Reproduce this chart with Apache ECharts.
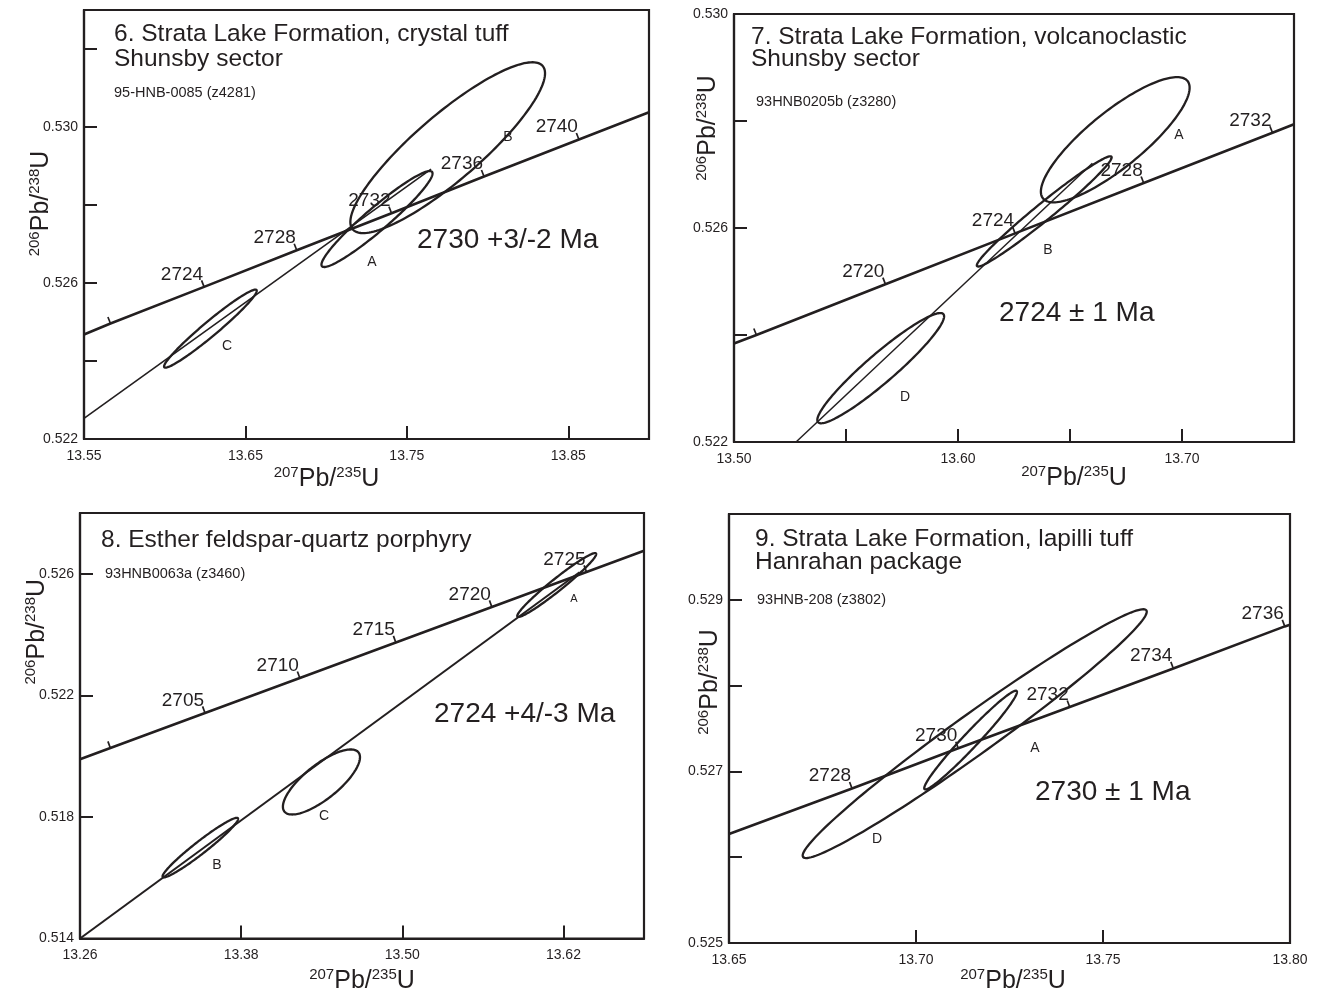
<!DOCTYPE html>
<html>
<head>
<meta charset="utf-8">
<title>U-Pb concordia diagrams</title>
<script src="https://cdn.jsdelivr.net/npm/echarts/dist/echarts.min.js"></script>
<style>
  html, body { margin: 0; padding: 0; background: #fff; }
  #chart { width: 1326px; height: 995px; }
</style>
</head>
<body>
<div id="chart"></div>
<script>
const INK = '#231f20';
const FONT = '"Liberation Sans", Arial, Helvetica, sans-serif';

// ---- 6. Strata Lake Formation, crystal tuff ----
const p6Ages = [2720, 2724, 2728, 2732, 2736, 2740];
const p6UnlabelledAges = [2720];
const p6TickX = [13.5664, 13.6244, 13.6818, 13.7405, 13.7978, 13.8566];
const p6TickY = [0.52496, 0.52590, 0.52684, 0.52779, 0.52873, 0.52968];
const p6ConcordiaEnds = [[13.55, 0.52468], [13.90, 0.53038]];
const p6Discordia = [[13.55, 0.52253], [13.765, 0.52892]];
const p6EllipseNames = ['A', 'B', 'C'];
// centre x, centre y, half width in x, half width in y, error correlation
const p6Ellipses = [
  [13.7315, 0.52764, 0.0344, 0.00123, 0.95],
  [13.7753, 0.52947, 0.0603, 0.00219, 0.87],
  [13.6283, 0.52483, 0.0287, 0.00100, 0.97]
];
const p6XLabels = ['13.55', '13.65', '13.75', '13.85'];
const p6YLabels = ['0.522', '0.526', '0.530'];

// ---- 7. Strata Lake Formation, volcanoclastic ----
const p7Ages = [2716, 2720, 2724, 2728, 2732];
const p7UnlabelledAges = [2716];
const p7TickX = [13.5100, 13.5676, 13.6255, 13.6829, 13.7404];
const p7TickY = [0.52400, 0.52495, 0.52590, 0.52684, 0.52778];
const p7ConcordiaEnds = [[13.50, 0.52384], [13.75, 0.52794]];
const p7Discordia = [[13.5277, 0.52200], [13.660, 0.52721]];
const p7EllipseNames = ['A', 'B', 'D'];
const p7Ellipses = [
  [13.6702, 0.52765, 0.0332, 0.00117, 0.83],
  [13.6385, 0.52631, 0.0301, 0.00103, 0.98],
  [13.5655, 0.52338, 0.0283, 0.00103, 0.94]
];
const p7XLabels = ['13.50', '13.60', '13.70'];
const p7YLabels = ['0.522', '0.526', '0.530'];

// ---- 8. Esther feldspar-quartz porphyry ----
const p8Ages = [2700, 2705, 2710, 2715, 2720, 2725];
const p8UnlabelledAges = [2700];
const p8TickX = [13.2826, 13.3531, 13.4237, 13.4952, 13.5667, 13.6372];
const p8TickY = [0.52027, 0.52142, 0.52257, 0.52374, 0.52491, 0.52606];
const p8ConcordiaEnds = [[13.26, 0.51990], [13.68, 0.52676]];
const p8Discordia = [[13.26, 0.51400], [13.632, 0.52605]];
const p8EllipseNames = ['A', 'B', 'C'];
const p8Ellipses = [
  [13.6150, 0.52563, 0.0294, 0.00105, 0.97],
  [13.3496, 0.51699, 0.0281, 0.00098, 0.965],
  [13.4398, 0.51915, 0.0287, 0.00107, 0.76]
];
const p8XLabels = ['13.26', '13.38', '13.50', '13.62'];
const p8YLabels = ['0.514', '0.518', '0.522', '0.526'];

// ---- 9. Strata Lake Formation, lapilli tuff ----
const p9Ages = [2728, 2730, 2732, 2734, 2736];
const p9UnlabelledAges = [];
const p9TickX = [13.6829, 13.7113, 13.7411, 13.7688, 13.7986];
const p9TickY = [0.52680, 0.52727, 0.52775, 0.52820, 0.52869];
const p9ConcordiaEnds = [[13.65, 0.52627], [13.80, 0.52871]];
const p9EllipseNames = ['A', 'D'];
const p9Ellipses = [
  [13.7146, 0.527365, 0.0124, 0.000575, 0.975],
  [13.7157, 0.52744, 0.0460, 0.00145, 0.98]
];
const p9XLabels = ['13.65', '13.70', '13.75', '13.80'];
const p9YLabels = ['0.525', '0.527', '0.529'];

// layout of the four diagrams (pixels)
const panels = [
  {
    grid: {left: 84, top: 10, width: 565, height: 429},
    x: {min: 13.55, max: 13.90, interval: 0.1, labels: p6XLabels, gap: 26, pad: [0, 80, 0, 0]},
    y: {min: 0.522, max: 0.533, interval: 0.002, labels: p6YLabels, gap: 29, pad: [0, 0, 0, 42]},
    ages: p6Ages, unlabelled: p6UnlabelledAges, tickX: p6TickX, tickY: p6TickY,
    concordia: p6ConcordiaEnds, discordia: p6Discordia, discordiaWidth: 1.6, ellipses: p6Ellipses
  },
  {
    grid: {left: 734, top: 14, width: 560, height: 428},
    x: {min: 13.50, max: 13.75, interval: 0.05, labels: p7XLabels, gap: 22, pad: [0, 0, 0, 120]},
    y: {min: 0.522, max: 0.530, interval: 0.002, labels: p7YLabels, gap: 12, pad: [0, 0, 0, 200]},
    ages: p7Ages, unlabelled: p7UnlabelledAges, tickX: p7TickX, tickY: p7TickY,
    concordia: p7ConcordiaEnds, discordia: p7Discordia, discordiaWidth: 1.5, ellipses: p7Ellipses
  },
  {
    grid: {left: 80, top: 513, width: 564, height: 428},
    x: {min: 13.26, max: 13.68, interval: 0.12, labels: p8XLabels, gap: 29, pad: [0, 0, 0, 0]},
    y: {min: 0.514, max: 0.528, interval: 0.004, labels: p8YLabels, gap: 29, pad: [0, 0, 0, 188]},
    ages: p8Ages, unlabelled: p8UnlabelledAges, tickX: p8TickX, tickY: p8TickY,
    concordia: p8ConcordiaEnds, discordia: p8Discordia, discordiaWidth: 2.1, ellipses: p8Ellipses
  },
  {
    grid: {left: 729, top: 514, width: 561, height: 429},
    x: {min: 13.65, max: 13.80, interval: 0.05, labels: p9XLabels, gap: 24, pad: [0, 0, 0, 7]},
    y: {min: 0.525, max: 0.530, interval: 0.001, labels: p9YLabels, gap: 5, pad: [0, 0, 0, 93]},
    ages: p9Ages, unlabelled: p9UnlabelledAges, tickX: p9TickX, tickY: p9TickY,
    concordia: p9ConcordiaEnds, discordia: null, discordiaWidth: 0, ellipses: p9Ellipses
  }
];

// free text: titles, sample numbers, ages
const notes = [
  ['6. Strata Lake Formation, crystal tuff', 114, 34, 24.5],
  ['Shunsby sector', 114, 59, 24.5],
  ['95-HNB-0085 (z4281)', 114, 93, 14.5],
  ['2730 +3/-2 Ma', 417, 240, 28],
  ['7. Strata Lake Formation, volcanoclastic', 751, 37, 24.5],
  ['Shunsby sector', 751, 59, 24.5],
  ['93HNB0205b (z3280)', 756, 102, 14.5],
  ['2724 \u00b1 1 Ma', 999, 313, 28],
  ['8. Esther feldspar-quartz porphyry', 101, 540, 24.5],
  ['93HNB0063a (z3460)', 105, 574, 14.5],
  ['2724 +4/-3 Ma', 434, 714, 28],
  ['9. Strata Lake Formation, lapilli tuff', 755, 539, 24.5],
  ['Hanrahan package', 755, 562, 24.5],
  ['93HNB-208 (z3802)', 757, 600, 14.5],
  ['2730 \u00b1 1 Ma', 1035, 792, 28]
];
// where each ellipse letter sits: x, y, font size
const letterSpots = [
  [p6EllipseNames, [[372, 262, 14], [508, 137, 14], [227, 346, 14]]],
  [p7EllipseNames, [[1179, 135, 14], [1048, 250, 14], [905, 397, 14]]],
  [p8EllipseNames, [[574, 599, 11], [217, 865, 14], [324, 816, 14]]],
  [p9EllipseNames, [[1035, 748, 14], [877, 839, 14]]]
];

const nameRich = {
  main: {fontSize: 25, lineHeight: 28, fontFamily: FONT, color: INK},
  sup: {fontSize: 15, lineHeight: 16, fontFamily: FONT, color: INK, verticalAlign: 'top'}
};

function pickLabels(list, decimals) {
  return function (value) {
    const s = value.toFixed(decimals);
    return list.indexOf(s) >= 0 ? s : '';
  };
}

function makeAxis(i, a, isX) {
  return {
    gridIndex: i,
    type: 'value',
    min: a.min,
    max: a.max,
    interval: a.interval,
    name: isX ? '{sup|207}{main|Pb/}{sup|235}{main|U}' : '{sup|206}{main|Pb/}{sup|238}{main|U}',
    nameLocation: 'middle',
    nameGap: a.gap,
    nameRotate: isX ? 0 : 90,
    nameMoveOverlap: false,
    nameTextStyle: {rich: nameRich, padding: a.pad},
    axisLine: {show: true, onZero: false, lineStyle: {color: INK, width: 2.2}},
    axisTick: {show: true, inside: true, length: 13, lineStyle: {color: INK, width: 2}},
    axisLabel: {
      show: true, margin: isX ? 10 : 6, fontSize: 14, fontFamily: FONT, color: INK,
      formatter: pickLabels(a.labels, isX ? 2 : 3)
    },
    splitLine: {show: false}
  };
}

function ellipseRenderer(params, api) {
  const cx = api.value(0), cy = api.value(1);
  const hx = api.value(2), hy = api.value(3), rho = api.value(4);
  const s = Math.sqrt(1 - rho * rho);
  const pts = [];
  for (let k = 0; k < 160; k++) {
    const t = (k / 160) * Math.PI * 2;
    pts.push(api.coord([cx + hx * Math.cos(t), cy + hy * (rho * Math.cos(t) + s * Math.sin(t))]));
  }
  return {type: 'polygon', shape: {points: pts}, style: {fill: 'none', stroke: INK, lineWidth: 2.3}};
}

// small age ticks on the concordia, pointing to the upper-left side
function tickRenderer(ends, unlabelled) {
  return function (params, api) {
    const p = api.coord([api.value(0), api.value(1)]);
    const age = api.value(2);
    const a = api.coord(ends[0]);
    const b = api.coord(ends[1]);
    const len = Math.hypot(b[0] - a[0], b[1] - a[1]);
    const nx = (b[1] - a[1]) / len;
    const ny = -(b[0] - a[0]) / len;
    const children = [{
      type: 'line',
      shape: {x1: p[0], y1: p[1], x2: p[0] + nx * 7, y2: p[1] + ny * 7},
      style: {stroke: INK, lineWidth: 1.7}
    }];
    if (unlabelled.indexOf(age) < 0) {
      children.push({
        type: 'text', x: p[0] - 1, y: p[1] - 3,
        style: {text: String(age), align: 'right', verticalAlign: 'bottom',
          fontSize: 19, fontFamily: FONT, fill: INK}
      });
    }
    return {type: 'group', children: children};
  };
}

const grids = [], xAxes = [], yAxes = [], series = [];
panels.forEach(function (p, i) {
  grids.push(Object.assign({show: true, borderColor: INK, borderWidth: 2.2, backgroundColor: 'transparent'}, p.grid));
  xAxes.push(makeAxis(i, p.x, true));
  yAxes.push(makeAxis(i, p.y, false));

  series.push({
    type: 'custom', xAxisIndex: i, yAxisIndex: i, silent: true, z: 2,
    data: p.ellipses, encode: {x: 0, y: 1}, renderItem: ellipseRenderer
  });

  const concordia = [p.concordia[0]];
  p.tickX.forEach(function (x, k) { concordia.push([x, p.tickY[k]]); });
  concordia.push(p.concordia[1]);
  series.push({
    type: 'line', xAxisIndex: i, yAxisIndex: i, silent: true, z: 3,
    data: concordia, symbol: 'none', lineStyle: {color: INK, width: 2.6}
  });

  if (p.discordia) {
    series.push({
      type: 'line', xAxisIndex: i, yAxisIndex: i, silent: true, z: 3,
      data: p.discordia, symbol: 'none', lineStyle: {color: INK, width: p.discordiaWidth}
    });
  }

  series.push({
    type: 'custom', xAxisIndex: i, yAxisIndex: i, silent: true, z: 4, clip: false,
    data: p.tickX.map(function (x, k) { return [x, p.tickY[k], p.ages[k]]; }),
    encode: {x: 0, y: 1}, renderItem: tickRenderer(p.concordia, p.unlabelled)
  });
});

const graphics = notes.map(function (n) {
  return {
    type: 'text', x: n[1], y: n[2], silent: true,
    style: {text: n[0], fontSize: n[3], fontFamily: FONT, fill: INK, align: 'left', verticalAlign: 'middle'}
  };
});
letterSpots.forEach(function (set) {
  set[0].forEach(function (letter, k) {
    const spot = set[1][k];
    graphics.push({
      type: 'text', x: spot[0], y: spot[1], silent: true,
      style: {text: letter, fontSize: spot[2], fontFamily: FONT, fill: INK, align: 'center', verticalAlign: 'middle'}
    });
  });
});

const chart = echarts.init(document.getElementById('chart'));
chart.setOption({
  animation: false,
  backgroundColor: '#fff',
  textStyle: {fontFamily: FONT, color: INK},
  grid: grids,
  xAxis: xAxes,
  yAxis: yAxes,
  series: series,
  graphic: graphics
});
window.addEventListener('resize', function () {
  chart.resize();
});
</script>
</body>
</html>
